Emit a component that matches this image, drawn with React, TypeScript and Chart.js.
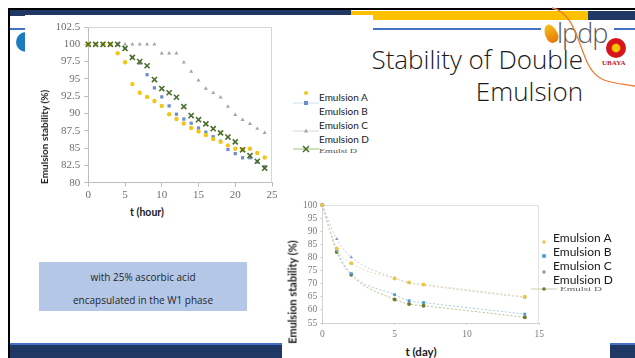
import React, { useEffect, useRef } from "react";
import { Chart, registerables } from "chart.js";
Chart.register(...registerables);

// ---------- data ----------
const hours = [0, 1, 2, 3, 4, 5, 6, 7, 8, 9, 10, 11, 12, 13, 14, 15, 16, 17, 18, 19, 20, 21, 22, 23, 24];
const hourA = [100, 100, 100, 100, 98.7, 97.4, 94.25, 93.0, 92.4, 91.8, 91.1, 89.9, 89.2, 88.55, 87.9, 87.4, 86.9, 86.3, 85.9, 85.4, 84.9, 84.8, 84.9, 84.3, 83.65];
const hourB = [100, 100, 100, 100, 100, 99.4, 98.1, 97.3, 95.6, 93.7, 92.4, 91.1, 89.9, 89.2, 88.6, 87.9, 87.3, 86.65, 86.0, 84.8, 84.2, 83.6, 83.6, 83.0, 82.3];
const hourC = [100, 100, 100, 100, 100, 100, 100, 100, 100, 100, 98.7, 98.7, 98.7, 97.4, 96.05, 94.8, 93.6, 93.0, 92.35, 91.0, 89.8, 89.1, 88.5, 87.8, 87.2];
const hourD = [100, 100, 100, 100, 100, 99.4, 98.1, 97.5, 96.9, 94.9, 93.6, 93.0, 92.35, 91.0, 89.7, 89.1, 88.5, 87.8, 87.2, 86.6, 85.9, 84.75, 83.9, 83.1, 82.1];

const days = [0, 1, 2, 5, 6, 7, 14];
const dayA = [100, 83.4, 77.8, 72.0, 70.4, 69.7, 65.0];
const dayB = [100, 82.8, 73.8, 65.8, 63.5, 62.8, 58.4];
const dayC = [100, 87.0, 80.1, 72.2, 70.3, 69.5, 64.7];
const dayD = [100, 82.1, 73.4, 64.0, 62.2, 61.6, 57.2];

const seriesNames = ["Emulsion A", "Emulsion B", "Emulsion C", "Emulsion D"];
const ghostLegend = "Emulsi D";
const yAxisTitle = "Emulsion stability (%)";
const hourAxisTitle = "t (hour)";
const dayAxisTitle = "t (day)";
const slideTitle = ["Stability of Double", "Emulsion"];
const noteLines = ["with 25% ascorbic acid", "encapsulated in the W1 phase"];

// ---------- styles ----------
const NARROW = "'Liberation Sans Narrow', 'Arial Narrow', Lato, sans-serif";
const SERIF = "'Liberation Serif', 'Times New Roman', serif";
const SANS = "'Open Sans', 'Noto Sans', sans-serif";

const topColors = ["#f2c516", "#6b8fc6", "#a3a3a3", "#4a6d2b"];
const botColors = ["#e7c64a", "#4d9bd0", "#9d92bb", "#6f7a2c"];
const botLines = ["#e8dca6", "#a9cbe6", "#cfc8dc", "#b4bf8e"];

const pts = (xs: number[], ys: number[]) => xs.map((x, i) => ({ x, y: ys[i] }));

const framePlugin = {
  id: "frame",
  beforeDatasetsDraw(chart: any, _a: any, opts: any) {
    const { ctx, chartArea } = chart;
    const { left, top, right, bottom } = chartArea;
    ctx.save();
    ctx.strokeStyle = opts.color || "#ddd";
    ctx.lineWidth = 1;
    ctx.beginPath();
    ctx.moveTo(left, Math.round(top) + 0.5);
    ctx.lineTo(Math.round(right) - 0.5, Math.round(top) + 0.5);
    ctx.lineTo(Math.round(right) - 0.5, bottom);
    ctx.stroke();
    ctx.restore();
  },
};

function TopChart() {
  const ref = useRef<HTMLCanvasElement>(null);
  useEffect(() => {
    const tickFont = { family: SERIF, size: 11 };
    const chart = new Chart(ref.current as HTMLCanvasElement, {
      type: "scatter",
      data: {
        datasets: [
          { label: seriesNames[0], data: pts(hours, hourA), pointStyle: "circle", pointRadius: 2.2, backgroundColor: topColors[0], borderColor: topColors[0], borderWidth: 0, showLine: false, clip: false, order: 2 } as any,
          { label: seriesNames[1], data: pts(hours, hourB), pointStyle: "rect", pointRadius: 2.3, backgroundColor: topColors[1], borderColor: topColors[1], borderWidth: 0, showLine: false, clip: false, order: 3 },
          { label: seriesNames[2], data: pts(hours, hourC), pointStyle: "triangle", pointRadius: 2.3, backgroundColor: topColors[2], borderColor: topColors[2], borderWidth: 0, showLine: false, clip: false, order: 4 },
          { label: seriesNames[3], data: pts(hours, hourD), pointStyle: "crossRot", pointRadius: 3.6, backgroundColor: topColors[3], borderColor: topColors[3], borderWidth: 1.6, showLine: false, clip: false, order: 1 },
        ],
      },
      options: {
        responsive: false,
        animation: false,
        devicePixelRatio: 1,
        layout: { padding: { top: 12, right: 8, left: 0, bottom: 0 } },
        plugins: { legend: { display: false }, tooltip: { enabled: false }, frame: { color: "#d6d6d6" } } as any,
        scales: {
          x: {
            type: "linear", min: 0, max: 25,
            ticks: { stepSize: 5, autoSkip: false, color: "#6e6e6e", font: tickFont, padding: 2, maxRotation: 0, callback: (v: any) => String(v) },
            grid: { drawOnChartArea: false, drawTicks: true, tickLength: 4, color: "#bdbdbd" },
            border: { color: "#bdbdbd" },
            afterFit: (s: any) => { s.height = 22.3; },
          },
          y: {
            min: 80, max: 102.5,
            ticks: { stepSize: 2.5, autoSkip: false, color: "#6e6e6e", font: tickFont, padding: 4, callback: (v: any) => String(v) },
            grid: { drawOnChartArea: false, drawTicks: true, tickLength: 4, color: "#bdbdbd" },
            border: { color: "#bdbdbd" },
            afterFit: (s: any) => { s.width = 63.3; },
          },
        },
      },
      plugins: [framePlugin],
    } as any);
    return () => chart.destroy();
  }, []);
  return <canvas ref={ref} width={255} height={190} style={{ position: "absolute", left: 25, top: 15, width: 255, height: 190 }} />;
}

function BottomChart() {
  const ref = useRef<HTMLCanvasElement>(null);
  useEffect(() => {
    const tickFont = { family: SERIF, size: 9.5 };
    const series = [dayA, dayB, dayC, dayD];
    const styles = ["circle", "rect", "triangle", "circle"];
    const chart = new Chart(ref.current as HTMLCanvasElement, {
      type: "scatter",
      data: {
        datasets: series.map((s, i) => ({
          label: seriesNames[i],
          data: pts(days, s),
          pointStyle: styles[i],
          pointRadius: 2,
          backgroundColor: botColors[i],
          borderColor: botLines[i],
          pointBorderColor: botColors[i],
          pointBorderWidth: 0,
          borderWidth: 1,
          borderDash: [2, 2],
          showLine: true,
          cubicInterpolationMode: "monotone",
          clip: false,
        })),
      },
      options: {
        responsive: false,
        animation: false,
        devicePixelRatio: 1,
        layout: { padding: { top: 10, right: 8, left: 0, bottom: 0 } },
        plugins: { legend: { display: false }, tooltip: { enabled: false }, frame: { color: "#e2e2e2" } } as any,
        scales: {
          x: {
            type: "linear", min: 0, max: 15,
            ticks: { stepSize: 5, autoSkip: false, color: "#7a7a7a", font: tickFont, padding: 4, maxRotation: 0, callback: (v: any) => String(v) },
            grid: { drawOnChartArea: false, drawTicks: true, tickLength: 2, color: "#d0d0d0" },
            border: { color: "#d0d0d0" },
            afterFit: (s: any) => { s.height = 20; },
          },
          y: {
            min: 55, max: 100,
            ticks: { stepSize: 5, autoSkip: false, color: "#7a7a7a", font: tickFont, padding: 3, callback: (v: any) => String(v) },
            grid: { drawOnChartArea: false, drawTicks: true, tickLength: 2, color: "#d0d0d0" },
            border: { color: "#d0d0d0" },
            afterFit: (s: any) => { s.width = 40.3; },
          },
        },
      },
      plugins: [framePlugin],
    } as any);
    return () => chart.destroy();
  }, []);
  return <canvas ref={ref} width={266} height={148} style={{ position: "absolute", left: 282, top: 195, width: 266, height: 148 }} />;
}

function Marker({ kind, color, x, y, r, line, lw = 1 }: any) {
  return (
    <svg width={26} height={12} style={{ position: "absolute", left: x - 13, top: y - 6, overflow: "visible" }}>
      {line && <line x1={0} y1={6} x2={26} y2={6} stroke={line} strokeWidth={1} />}
      {kind === "circle" && <circle cx={13} cy={6} r={r} fill={color} />}
      {kind === "rect" && <rect x={13 - r} y={6 - r} width={2 * r} height={2 * r} fill={color} />}
      {kind === "triangle" && <polygon points={`13,${6 - r * 1.2} ${13 + r},${6 + r * 0.8} ${13 - r},${6 + r * 0.8}`} fill={color} />}
      {kind === "x" && (
        <g stroke={color} strokeWidth={lw}>
          <line x1={13 - r} y1={6 - r} x2={13 + r} y2={6 + r} />
          <line x1={13 - r} y1={6 + r} x2={13 + r} y2={6 - r} />
        </g>
      )}
    </svg>
  );
}

const abs = (o: any): React.CSSProperties => ({ position: "absolute", ...o });

function Label({ text, x, y, size, family, weight = 400, color = "#1a1a1a", rotate = false, extra = {} }: any) {
  return (
    <div
      style={abs({
        left: x, top: y, fontSize: size, fontFamily: family, fontWeight: weight, color,
        whiteSpace: "nowrap", lineHeight: 1,
        transform: `translate(-50%, -50%)${rotate ? " rotate(-90deg)" : ""}`,
        ...extra,
      })}
    >
      {text}
    </div>
  );
}

export default function App() {
  const topLegendY = [97.7, 111.3, 125.3, 139.3];
  const botLegendY = [237.7, 251.7, 265.7, 279.3];
  return (
    <div style={abs({ position: "fixed", left: 0, top: 0, width: 635, height: 358, background: "#fff", overflow: "hidden" })}>
      {/* slide frame */}
      <div style={abs({ left: 8, top: 8, width: 627, height: 2, background: "#000" })} />
      <div style={abs({ left: 8, top: 8, width: 2, height: 350, background: "#000" })} />
      <div style={abs({ left: 10, top: 10, width: 341, height: 6, background: "#1f3864" })} />
      <div style={abs({ left: 351, top: 11, width: 237, height: 9, background: "#ffc000" })} />
      <div style={abs({ left: 588, top: 11, width: 47, height: 9, background: "#1f3864" })} />
      <div style={abs({ left: 10, top: 28, width: 625, height: 2, background: "#4472c4" })} />
      <div style={abs({ left: 16, top: 32, width: 20, height: 20, borderRadius: "50%", background: "#1b7cc0" })} />
      <div style={abs({ left: 10, top: 343, width: 625, height: 2, background: "#4472c4" })} />
      <div style={abs({ left: 10, top: 345, width: 625, height: 13, background: "#1f3864" })} />

      {/* white chart panels */}
      <div style={abs({ left: 25, top: 15, width: 348, height: 195, background: "#fff" })} />
      <div style={abs({ left: 282, top: 188, width: 328, height: 170, background: "#fff" })} />

      {/* logos */}
      <div style={abs({ left: 541, top: 22, width: 73, height: 25, background: "#fff" })} />
      <div style={abs({ left: 545, top: 24, width: 12, height: 19, borderRadius: "60% 60% 50% 50% / 70% 70% 40% 40%", background: "linear-gradient(#f6c21a, #e9760c)", transform: "rotate(-25deg)" })} />
      <div style={abs({ left: 557, top: 19, fontSize: 27, fontFamily: SANS, fontWeight: 300, color: "#5a5a5a", lineHeight: 1, letterSpacing: -1 })}>lpdp</div>
      <div style={abs({ left: 606, top: 38, width: 20, height: 20, borderRadius: "50%", background: "radial-gradient(circle, #f7c600 0 25%, #d8141a 35%)" })} />
      <div style={abs({ left: 602, top: 60, fontSize: 7, fontFamily: SERIF, fontWeight: 700, color: "#c0182a", lineHeight: 1 })}>UBAYA</div>
      <svg width={635} height={358} style={abs({ left: 0, top: 0 })}>
        <path d="M552 8 C 574 12, 578 44, 588 64 S 612 82, 635 86" fill="none" stroke="#ed7d31" strokeWidth={1.3} />
      </svg>

      {/* title */}
      <div style={abs({ right: 52, top: 44, fontSize: 26, fontFamily: SANS, fontWeight: 300, color: "#1a1a1a", lineHeight: "31.7px", textAlign: "right" })}>
        <div>{slideTitle[0]}</div>
        <div>{slideTitle[1]}</div>
      </div>

      {/* note box */}
      <div style={abs({ left: 39, top: 262, width: 208, height: 49, background: "#b4c7e7", textAlign: "center", fontFamily: SANS, fontSize: 10, color: "#262626", lineHeight: "23px", paddingTop: 3.5, boxSizing: "border-box" })}>
        <div>{noteLines[0]}</div>
        <div>{noteLines[1]}</div>
      </div>

      {/* charts */}
      <TopChart />
      <BottomChart />

      {/* top chart titles and legend */}
      <Label text={yAxisTitle} x={44} y={137} size={10} family={NARROW} weight={700} rotate />
      <Label text={hourAxisTitle} x={147} y={212} size={10.5} family={NARROW} weight={700} />
      <Marker kind="circle" color={topColors[0]} x={306} y={93.3} r={2} />
      <Marker kind="rect" color={topColors[1]} x={306} y={102.7} r={2} line="#cfe0ee" />
      <Marker kind="triangle" color={topColors[2]} x={306} y={131} r={2} line="#d8d8d8" />
      <Marker kind="x" color={topColors[3]} x={306} y={149.3} r={3} lw={1.5} line="#9cc27a" />
      {seriesNames.map((n, i) => (
        <div key={n} style={abs({ left: 319, top: topLegendY[i] - 5.5, fontSize: 10, fontFamily: NARROW, color: "#1a1a1a", lineHeight: "11px", whiteSpace: "nowrap" })}>{n}</div>
      ))}
      <div style={abs({ left: 319, top: 146, fontSize: 10, fontFamily: SERIF, color: "#555", lineHeight: "10px", transform: "scaleY(0.55)", transformOrigin: "0 50%", whiteSpace: "nowrap" })}>{ghostLegend}</div>

      {/* bottom chart titles and legend */}
      <Label text={yAxisTitle} x={292} y={292} size={11} family={NARROW} weight={700} rotate />
      <Label text={dayAxisTitle} x={421} y={352} size={11.5} family={NARROW} weight={700} />
      <Marker kind="circle" color={botColors[0]} x={544} y={241.7} r={1.8} />
      <Marker kind="rect" color={botColors[1]} x={544} y={255.7} r={1.8} />
      <Marker kind="circle" color={botColors[2]} x={544} y={272} r={1.8} />
      <Marker kind="circle" color={botColors[3]} x={544} y={289} r={1.8} line="#c9cfae" />
      {seriesNames.map((n, i) => (
        <div key={"b" + n} style={abs({ left: 553, top: botLegendY[i] - 6.5, fontSize: 12, fontFamily: NARROW, color: "#1a1a1a", lineHeight: "13px", whiteSpace: "nowrap" })}>{n}</div>
      ))}
      <div style={abs({ left: 560, top: 284, fontSize: 11, fontFamily: SERIF, color: "#666", lineHeight: "11px", transform: "scaleY(0.5)", transformOrigin: "0 50%", whiteSpace: "nowrap" })}>{ghostLegend}</div>
    </div>
  );
}
